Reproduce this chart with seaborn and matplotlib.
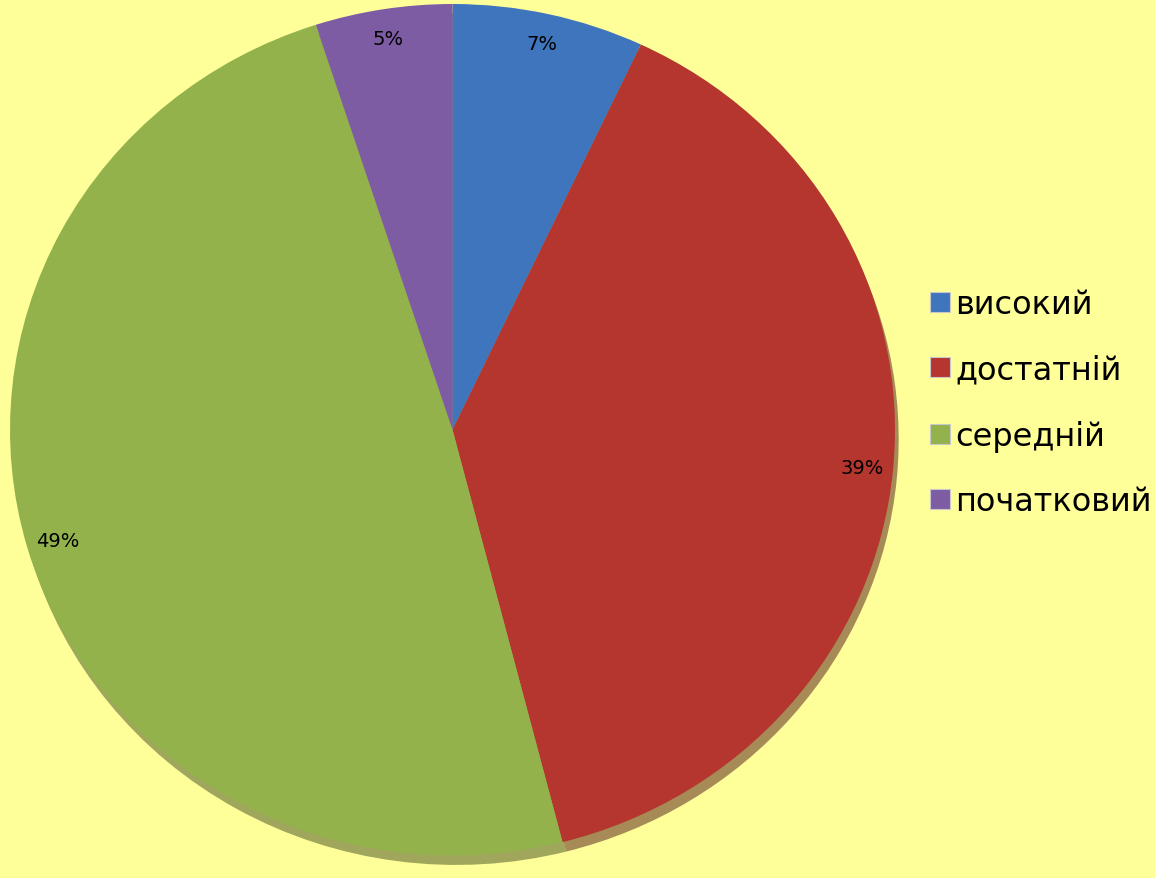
import numpy as np
import pandas as pd
import matplotlib
matplotlib.use("Agg")
import matplotlib.pyplot as plt
from matplotlib.lines import Line2D
import seaborn as sns

# data
levels = ["високий", "достатній", "середній", "початковий"]
shares = [7, 39, 49, 5]
pct_labels = ["7%", "39%", "49%", "5%"]

sns.set_style("white")
colors = sns.color_palette(["#3F75BD", "#B5352F", "#93B24C", "#7D5CA3"])
plt.rcParams["font.family"] = ["DejaVu Sans"]

bg = "#FFFF99"
fig = plt.figure(figsize=(11.55, 8.79), dpi=100, facecolor=bg)
ax = fig.add_axes([10 / 1155, 14 / 879, 885 / 1155, 860 / 879])
ax.set_facecolor(bg)

wedges, texts, autotexts = ax.pie(
    shares, colors=colors, startangle=90, counterclock=False,
    autopct=lambda p: "", pctdistance=0.93, radius=1,
    wedgeprops=dict(linewidth=0),
    shadow=dict(ox=0.006, oy=-0.016, shade=0.55),
)
for t, lab in zip(autotexts, pct_labels):
    t.set_text(lab)
    t.set_fontsize(14)
    t.set_color("black")

ax.set_xlim(-1.0, 1.0)
ax.set_ylim(-1.02, 1.0)
ax.set_aspect("auto")
ax.axis("off")

# legend on the right, square markers
handles = [Line2D([0], [0], marker="s", linestyle="", markersize=14,
                  markerfacecolor=c, markeredgecolor="#C8C8C8", markeredgewidth=0.8)
           for c in colors]
leg = fig.legend(handles, levels, loc="center left", bbox_to_anchor=(914 / 1155, 1 - 404 / 879),
                 frameon=False, fontsize=23, handlelength=0.6, handletextpad=0.2,
                 labelspacing=1.08, borderpad=0)
for t in leg.get_texts():
    t.set_color("black")

fig.savefig("out.png", dpi=100, facecolor=bg)
